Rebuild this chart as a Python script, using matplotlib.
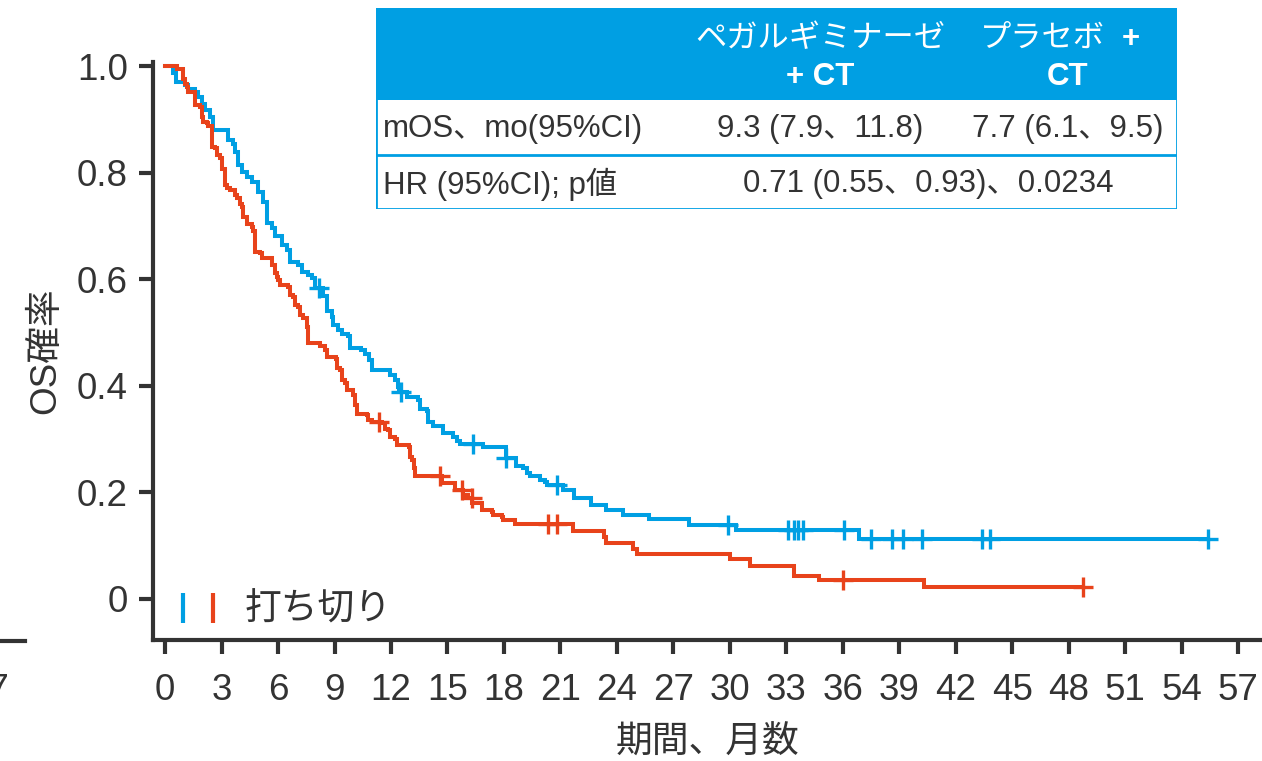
import numpy as np
import matplotlib
matplotlib.use("Agg")
import matplotlib.pyplot as plt
from matplotlib.lines import Line2D
from matplotlib.patches import Rectangle

plt.rcParams['font.family'] = ['Liberation Sans', 'Noto Sans CJK JP']

# --- Kaplan-Meier data (event times in months, survival after each drop) ---
peg_t = [0.44, 0.58, 1.06, 1.24, 1.59, 1.75, 1.95, 2.12, 2.39, 2.57, 3.32, 3.63,
         3.72, 3.9, 4.07, 4.34, 4.6, 4.96, 5.22, 5.4, 5.67, 5.84, 6.2, 6.46, 6.64,
         7.08, 7.25, 7.61, 7.78, 7.97, 8.4, 8.58, 8.84, 8.94, 9.2, 9.4, 9.73, 9.82,
         10.4, 10.62, 10.85, 10.97, 11.95, 12.2, 12.35, 12.45, 12.83, 13.45, 13.54,
         13.9, 13.98, 14.25, 14.75, 15.3, 15.5, 15.65, 16.9, 18.1, 18.65, 19.0,
         19.2, 19.38, 19.9, 20.2, 20.3, 21.16, 21.7, 22.6, 23.4, 24.3, 25.7, 27.8,
         30.3, 36.85]
peg_s = [0.987, 0.97, 0.965, 0.958, 0.952, 0.942, 0.93, 0.917, 0.905, 0.88, 0.862,
         0.855, 0.839, 0.814, 0.802, 0.793, 0.783, 0.764, 0.746, 0.706, 0.697, 0.681,
         0.664, 0.655, 0.633, 0.627, 0.614, 0.609, 0.603, 0.583, 0.568, 0.54, 0.53,
         0.514, 0.505, 0.498, 0.494, 0.471, 0.467, 0.459, 0.448, 0.43, 0.42, 0.411,
         0.398, 0.389, 0.38, 0.373, 0.356, 0.352, 0.332, 0.325, 0.311, 0.305, 0.296,
         0.291, 0.286, 0.264, 0.249, 0.245, 0.237, 0.23, 0.223, 0.219, 0.214, 0.205,
         0.19, 0.176, 0.167, 0.158, 0.15, 0.139, 0.13, 0.113]
peg_cens = [8.2, 12.55, 16.37, 18.1, 20.8, 29.9, 33.1, 33.4, 33.6, 33.9, 36.06,
            37.5, 38.6, 39.2, 40.2, 43.4, 43.8, 55.4]

pla_t = [0.62, 0.97, 1.06, 1.15, 1.24, 1.59, 1.86, 1.95, 2.03, 2.21, 2.3, 2.48,
         2.66, 2.74, 2.92, 3.01, 3.19, 3.3, 3.45, 3.72, 3.81, 3.98, 4.07, 4.16,
         4.34, 4.6, 4.69, 4.78, 5.04, 5.13, 5.66, 5.84, 5.93, 6.02, 6.1, 6.55, 6.64,
         6.81, 6.9, 7.08, 7.17, 7.34, 7.52, 7.61, 8.23, 8.5, 8.58, 9.07, 9.11, 9.29,
         9.38, 9.56, 9.65, 10.0, 10.09, 10.18, 10.71, 10.8, 10.97, 11.5, 11.68,
         11.86, 11.95, 12.21, 12.3, 12.95, 13.0, 13.1, 13.2, 13.3, 14.69, 15.4,
         15.84, 16.1, 16.3, 16.81, 17.34, 17.43, 17.87, 17.96, 18.6, 21.65, 23.3,
         23.4, 24.85, 25.05, 30.0, 31.05, 33.4, 34.75, 40.3]
pla_s = [0.994, 0.976, 0.967, 0.961, 0.952, 0.927, 0.924, 0.905, 0.896, 0.893,
         0.887, 0.849, 0.846, 0.833, 0.827, 0.808, 0.778, 0.772, 0.767, 0.758, 0.752,
         0.742, 0.736, 0.717, 0.703, 0.698, 0.69, 0.652, 0.649, 0.64, 0.627, 0.611,
         0.605, 0.599, 0.589, 0.586, 0.57, 0.567, 0.552, 0.549, 0.533, 0.527, 0.51,
         0.48, 0.475, 0.467, 0.455, 0.45, 0.433, 0.43, 0.411, 0.405, 0.392, 0.383,
         0.364, 0.348, 0.345, 0.336, 0.333, 0.33, 0.32, 0.317, 0.305, 0.301, 0.289,
         0.286, 0.267, 0.26, 0.245, 0.23, 0.217, 0.205, 0.195, 0.189, 0.18, 0.167,
         0.164, 0.158, 0.154, 0.148, 0.141, 0.128, 0.117, 0.105, 0.094, 0.084,
         0.075, 0.062, 0.043, 0.036, 0.023]
pla_cens = [11.36, 14.6, 15.75, 16.28, 20.36, 20.8, 36.0, 48.75]

x_ticks = list(range(0, 58, 3))
y_ticks = [0, 0.2, 0.4, 0.6, 0.8, 1.0]
y_ticklabels = ['0', '0.2', '0.4', '0.6', '0.8', '1.0']

# summary table
tbl_heads = ['ペガルギミナーゼ', 'プラセボ']
tbl_rows = ['mOS、mo(95%CI)', 'HR (95%CI); p値']
mos_vals = ['9.3 (7.9、11.8)', '7.7 (6.1、9.5)']
hr_val = '0.71 (0.55、0.93)、0.0234'

BLUE = '#009FE3'
RED = '#E8431B'
DARK = '#333333'

W, H = 1262, 761
fig = plt.figure(figsize=(W / 100, H / 100), dpi=100)
ax = fig.add_axes([153 / W, 1 - 640 / H, 1 - 153 / W, (640 - 62) / H])


def km_steps(t, s, cens):
    end = max(cens)
    xs = [0] + list(t) + [end]
    ys = [1.0] + list(s) + [s[-1]]
    return xs, ys


def cens_y(t, s, cens):
    t = np.asarray(t)
    s = np.asarray(s)
    out = []
    for c in cens:
        i = np.searchsorted(t, c, side='right') - 1
        out.append(1.0 if i < 0 else s[i])
    return out


for t, s, c, col in [(peg_t, peg_s, peg_cens, BLUE), (pla_t, pla_s, pla_cens, RED)]:
    xs, ys = km_steps(t, s, c)
    ax.step(xs, ys, where='post', color=col, lw=2.9, solid_joinstyle='miter')
    ax.plot(c, cens_y(t, s, c), ls='none', marker='+', ms=15, mew=2.4, color=col)

ax.set_xlim(-0.64, (W - 165) / 18.83)
ax.set_ylim(-0.077, 1.008)
ax.set_xticks(x_ticks)
ax.set_yticks(y_ticks)
ax.set_yticklabels(y_ticklabels)
ax.tick_params(axis='both', colors=DARK, labelsize=26.5, width=3, length=10,
               direction='out')
ax.tick_params(axis='x', pad=14)
ax.tick_params(axis='y', pad=8)
for side in ['top', 'right']:
    ax.spines[side].set_visible(False)
for side in ['left', 'bottom']:
    ax.spines[side].set_linewidth(3)
    ax.spines[side].set_color(DARK)

ax.set_xlabel('期間、月数', fontsize=26.5, color=DARK, labelpad=10,
              family=['Noto Sans CJK JP'])
ax.set_ylabel('OS確率', fontsize=26.5, color=DARK, labelpad=10)

# censoring legend
ax.plot([0.027], [0.055], transform=ax.transAxes, marker='|', ms=22, mew=3,
        color=BLUE, ls='none')
ax.plot([0.054], [0.055], transform=ax.transAxes, marker='|', ms=22, mew=3,
        color=RED, ls='none')
ax.text(0.083, 0.053, '打ち切り', transform=ax.transAxes, fontsize=26.5,
        color=DARK, va='center', family=['Noto Sans CJK JP'])

# neighbouring panel edge
fig.add_artist(Line2D([0, 25 / W], [1 - 641 / H, 1 - 641 / H], color=DARK, lw=3))
fig.text(9 / W, 1 - 690 / H, '57', fontsize=26.5, color=DARK, ha='right', va='center')

# table
tx0, ty0, tx1, ty1 = 376, 8, 1177, 209
tab = fig.add_axes([tx0 / W, 1 - ty1 / H, (tx1 - tx0) / W, (ty1 - ty0) / H])
tab.set_xlim(0, tx1 - tx0)
tab.set_ylim(ty1 - ty0, 0)
tab.axis('off')
tab.add_patch(Rectangle((0, 0), tx1 - tx0, 92, color=BLUE, lw=0))
tab.add_patch(Rectangle((0, 0), tx1 - tx0, ty1 - ty0, fill=False, ec=BLUE, lw=2))
tab.plot([0, tx1 - tx0], [147, 147], color=BLUE, lw=2)

fs = 22.5
col1, col2 = 444, 692
tab.text(col1, 30, tbl_heads[0], color='white', fontsize=fs, ha='center',
         va='center', family=['Noto Sans CJK JP'])
tab.text(col1, 69, '+ CT', color='white', fontsize=fs, ha='center', va='center',
         weight='bold')
tab.text(729, 30, tbl_heads[1], color='white', fontsize=fs, ha='right',
         va='center', family=['Noto Sans CJK JP'])
tab.text(746, 31, '+', color='white', fontsize=fs, ha='left', va='center',
         weight='bold')
tab.text(col2, 69, 'CT', color='white', fontsize=fs, ha='center', va='center',
         weight='bold')

tab.text(7, 121, tbl_rows[0], color=DARK, fontsize=fs, va='center')
tab.text(col1, 121, mos_vals[0], color=DARK, fontsize=fs, ha='center', va='center')
tab.text(col2, 121, mos_vals[1], color=DARK, fontsize=fs, ha='center', va='center')
tab.text(7, 176, tbl_rows[1], color=DARK, fontsize=fs, va='center')
tab.text(552, 176, hr_val, color=DARK, fontsize=fs, ha='center', va='center')

fig.savefig('out.png', dpi=100)
